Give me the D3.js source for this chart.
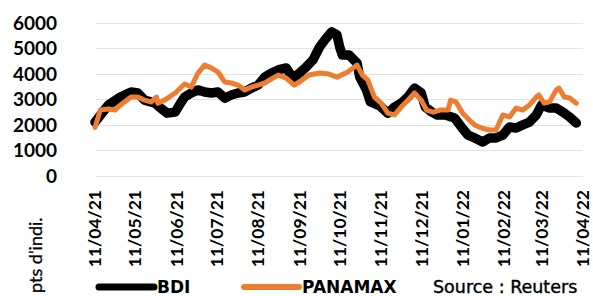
<!DOCTYPE html>
<html>
<head>
<meta charset="utf-8">
<script src="https://cdn.jsdelivr.net/npm/d3@7"></script>
<style>
  body { margin: 0; background: #fff; }
  svg { display: block; font-family: Lato, "Noto Sans", sans-serif; }
</style>
</head>
<body>
<div id="chart"></div>
<script>
// --- data ---
const bdiDates = [
  "2021-04-11","2021-04-21","2021-04-30","2021-05-08","2021-05-13","2021-05-18","2021-05-26","2021-05-30",
  "2021-06-04","2021-06-10","2021-06-14","2021-06-17","2021-06-22","2021-06-27","2021-07-02","2021-07-07",
  "2021-07-12","2021-07-17","2021-07-22","2021-07-27","2021-08-01","2021-08-06","2021-08-11","2021-08-16",
  "2021-08-21","2021-08-26","2021-09-01","2021-09-06","2021-09-11","2021-09-16","2021-09-21","2021-09-26",
  "2021-10-01","2021-10-05","2021-10-09","2021-10-11","2021-10-13","2021-10-18","2021-10-24","2021-10-26",
  "2021-10-31","2021-11-03","2021-11-10","2021-11-16","2021-11-21","2021-11-26","2021-12-01","2021-12-06",
  "2021-12-11","2021-12-14","2021-12-19","2021-12-23","2021-12-29","2022-01-05","2022-01-10","2022-01-15",
  "2022-01-20","2022-01-26","2022-01-31","2022-02-05","2022-02-10","2022-02-15","2022-02-20","2022-02-25",
  "2022-03-02","2022-03-07","2022-03-11","2022-03-17","2022-03-22","2022-03-27","2022-04-01","2022-04-06"
];
const bdiValues = [
  2110, 2780, 3090, 3290, 3250, 2970, 2850, 2660,
  2460, 2500, 2850, 3090, 3250, 3370, 3290, 3250,
  3290, 3050, 3170, 3250, 3290, 3440, 3560, 3870,
  4030, 4150, 4230, 3830, 4030, 4270, 4540, 5050,
  5400, 5640, 5520, 5050, 4740, 4740, 4420, 3870,
  3370, 2900, 2750, 2460, 2700, 2850, 3090, 3440,
  3250, 2700, 2500, 2390, 2390, 2270, 1920, 1600,
  1490, 1330, 1490, 1490, 1600, 1920, 1880, 2000,
  2110, 2390, 2780, 2660, 2660, 2500, 2310, 2070
];

const panamaxDates = [
  "2021-04-11","2021-04-15","2021-04-21","2021-04-26","2021-04-30","2021-05-08","2021-05-13","2021-05-18",
  "2021-05-23","2021-05-27","2021-05-28","2021-06-02","2021-06-10","2021-06-17","2021-06-22","2021-06-27",
  "2021-07-02","2021-07-07","2021-07-12","2021-07-17","2021-07-22","2021-07-27","2021-08-01","2021-08-06",
  "2021-08-11","2021-08-16","2021-08-21","2021-08-26","2021-09-01","2021-09-07","2021-09-11","2021-09-18",
  "2021-09-26","2021-10-03","2021-10-09","2021-10-17","2021-10-21","2021-10-24","2021-10-28","2021-11-01",
  "2021-11-06","2021-11-11","2021-11-16","2021-11-21","2021-11-26","2021-12-01","2021-12-06","2021-12-11",
  "2021-12-15","2021-12-20","2021-12-25","2021-12-31","2022-01-02","2022-01-06","2022-01-11","2022-01-16",
  "2022-01-20","2022-01-25","2022-01-31","2022-02-05","2022-02-10","2022-02-15","2022-02-20","2022-02-25",
  "2022-03-02","2022-03-07","2022-03-09","2022-03-13","2022-03-17","2022-03-22","2022-03-24","2022-03-28",
  "2022-04-01","2022-04-06"
];
const panamaxValues = [
  1900, 2580, 2620, 2580, 2780, 3090, 3090, 2970,
  2900, 3090, 2850, 2970, 3250, 3600, 3480, 4030,
  4340, 4230, 4070, 3680, 3640, 3560, 3370, 3480,
  3560, 3640, 3800, 3950, 3830, 3560, 3680, 3950,
  4030, 3990, 3870, 4070, 4230, 4340, 3950, 3760,
  3090, 2850, 2460, 2390, 2700, 2970, 3250, 2970,
  2580, 2500, 2580, 2580, 2970, 2900, 2460, 2190,
  2000, 1880, 1800, 1800, 2390, 2310, 2660, 2580,
  2780, 3090, 3170, 2850, 2900, 3370, 3440, 3090,
  3050, 2850
];

const yTicks = [0, 1000, 2000, 3000, 4000, 5000, 6000];
const xTickLabels = ["11/04/21","11/05/21","11/06/21","11/07/21","11/08/21","11/09/21",
                     "11/10/21","11/11/21","11/12/21","11/01/22","11/02/22","11/03/22","11/04/22"];
const yAxisTitle = "pts d'indi.";
const sourceText = "Source : Reuters";

const series = [
  { name: "BDI", dates: bdiDates, values: bdiValues, color: "#000000", width: 9.5 },
  { name: "PANAMAX", dates: panamaxDates, values: panamaxValues, color: "#ED7D31", width: 5 }
];

// --- layout ---
const W = 593, H = 296;
const parse = d3.timeParse("%Y-%m-%d");
const parseTick = d3.timeParse("%d/%m/%y");

const svg = d3.select("#chart").append("svg")
  .attr("width", W)
  .attr("height", H);

const x = d3.scaleTime()
  .domain([parse("2021-04-11"), parse("2022-04-11")])
  .range([95, 583]);

const y = d3.scaleLinear()
  .domain([0, 6000])
  .range([176, 22.7]);

// gridlines
svg.append("g")
  .selectAll("line")
  .data(yTicks)
  .join("line")
    .attr("x1", 96)
    .attr("x2", 583)
    .attr("y1", d => Math.round(y(d)) + 0.5)
    .attr("y2", d => Math.round(y(d)) + 0.5)
    .attr("stroke", "#e3e3e3")
    .attr("stroke-width", 1.2);

// y tick labels
svg.append("g")
  .selectAll("text")
  .data(yTicks)
  .join("text")
    .attr("x", 57)
    .attr("y", d => y(d))
    .attr("dy", "0.36em")
    .attr("text-anchor", "end")
    .attr("font-size", 19)
    .attr("font-weight", 700)
    .attr("fill", "#000")
    .text(d => d);

// x tick labels (rotated)
svg.append("g")
  .selectAll("text")
  .data(xTickLabels)
  .join("text")
    .attr("transform", d => `translate(${x(parseTick(d))},190) rotate(-90)`)
    .attr("dy", "0.36em")
    .attr("text-anchor", "end")
    .attr("font-size", 17.5)
    .attr("font-weight", 700)
    .attr("fill", "#000")
    .text(d => d);

// y axis title
svg.append("text")
  .attr("transform", "translate(42,293) rotate(-90)")
  .attr("text-anchor", "start")
  .attr("font-size", 18)
  .attr("fill", "#000")
  .attr("stroke", "#000")
  .attr("stroke-width", 0.3)
  .text(yAxisTitle);

// lines
const line = d3.line()
  .x(d => x(d.date))
  .y(d => y(d.value));

series.forEach(s => {
  const pts = s.dates.map((d, i) => ({ date: parse(d), value: s.values[i] }));
  svg.append("path")
    .datum(pts)
    .attr("fill", "none")
    .attr("stroke", s.color)
    .attr("stroke-width", s.width)
    .attr("stroke-linejoin", "round")
    .attr("stroke-linecap", "round")
    .attr("d", line);
});

// legend
const legendPos = [
  { x1: 99, x2: 154, tx: 157 },
  { x1: 244, x2: 299, tx: 302 }
];
series.forEach((s, i) => {
  const p = legendPos[i];
  svg.append("line")
    .attr("x1", p.x1).attr("x2", p.x2)
    .attr("y1", 287).attr("y2", 287)
    .attr("stroke", s.color)
    .attr("stroke-width", i === 0 ? 7 : 6)
    .attr("stroke-linecap", "round");
  svg.append("text")
    .attr("x", p.tx)
    .attr("y", 293)
    .attr("font-family", "'DejaVu Sans', sans-serif")
    .attr("font-size", 17)
    .attr("font-weight", 700)
    .attr("fill", "#000")
    .text(s.name);
});

svg.append("text")
  .attr("x", 433)
  .attr("y", 293)
  .attr("font-family", "'DejaVu Sans', sans-serif")
  .attr("font-size", 17.5)
  .attr("fill", "#000")
  .attr("stroke", "#000")
  .attr("stroke-width", 0.4)
  .text(sourceText);
</script>
</body>
</html>
